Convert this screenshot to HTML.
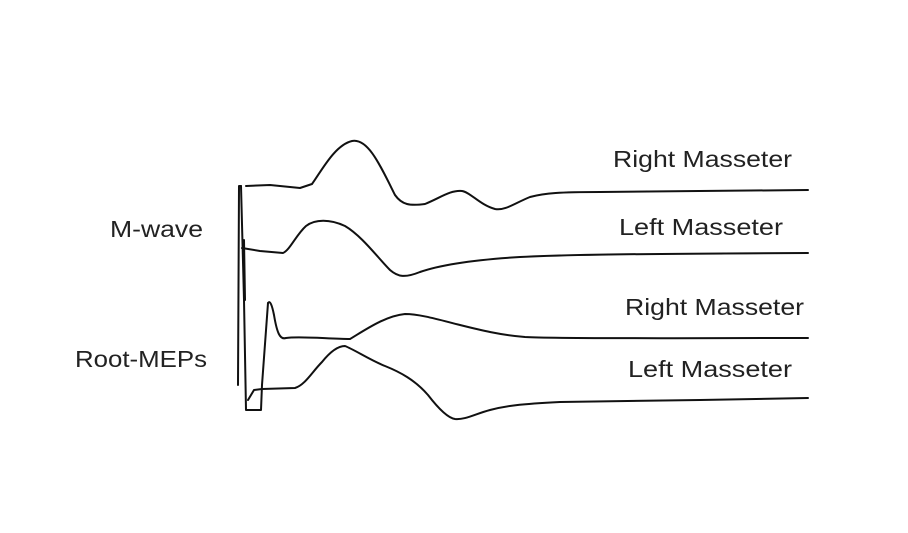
<!DOCTYPE html>
<html><head><meta charset="utf-8"><style>
html,body{margin:0;padding:0;background:#fff;}
svg{display:block;}
text{font-family:"Liberation Sans",sans-serif;font-size:23px;fill:#222;}
</style></head><body>
<svg width="908" height="533" viewBox="0 0 908 533" xmlns="http://www.w3.org/2000/svg">
<g fill="none" stroke="#111" stroke-width="2" stroke-linejoin="round" stroke-linecap="round">
<path d="M246,186 L270,185 L300,188 L312,184 C322,170 335,145 352,141 C368,138 380,165 395,195 C402,205 410,206 425,204 C440,198 450,190 462,191 C470,192 480,205 495,209 C505,211 515,203 530,197 C545,193 560,192 600,192 L808,190"/>
<path d="M242,248 L260,251 L283,253 C290,250 296,235 306,226 C315,219 330,219 345,226 C362,236 378,258 390,270 C398,277 405,278 420,272 C440,265 470,260 520,257 C560,255 600,254 808,253"/>
<path d="M238,385 L239,186 L241,186"/>
<path d="M241,186 L244,300 L246,410 L261,410 L262,385 L268,303"/>
<path d="M244,240 L245,300"/>
<path d="M268,303 C270,300 272,305 274,315 C277,333 280,340 286,338 C300,336 330,339 350,339 C365,330 385,316 405,314 C420,314 440,320 460,325 C480,330 500,335 525,337 C560,339 700,338 808,338"/>
<path d="M248,400 L254,390 L262,389 L295,388 C305,385 312,372 322,362 C330,352 338,346 345,346 C355,350 370,360 385,366 C400,372 415,380 428,395 C438,408 448,418 455,419 C465,420 475,414 490,410 C505,406 520,404 560,402 L700,400 L808,398"/>
</g>
<text x="613" y="167" textLength="179" lengthAdjust="spacingAndGlyphs">Right Masseter</text>
<text x="619" y="235" textLength="164" lengthAdjust="spacingAndGlyphs">Left Masseter</text>
<text x="625" y="315" textLength="179" lengthAdjust="spacingAndGlyphs">Right Masseter</text>
<text x="628" y="377" textLength="164" lengthAdjust="spacingAndGlyphs">Left Masseter</text>
<text x="110" y="237" textLength="93" lengthAdjust="spacingAndGlyphs">M-wave</text>
<text x="75" y="367" textLength="132" lengthAdjust="spacingAndGlyphs">Root-MEPs</text>
</svg>
</body></html>
